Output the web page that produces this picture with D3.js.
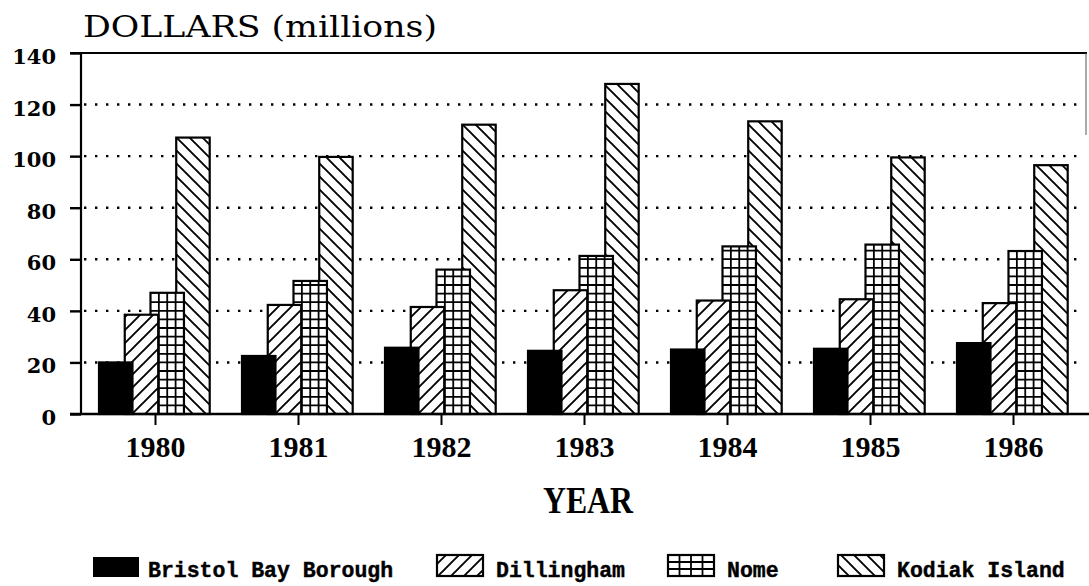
<!DOCTYPE html>
<html>
<head>
  <script src="https://d3js.org/d3.v7.min.js"></script>
  <style>
    body { margin: 0; background: #fff; }
    svg { display: block; }
  </style>
</head>
<body>
  <div id="chart"></div>
  <script>
    // data (millions of dollars)
    var years = ["1980", "1981", "1982", "1983", "1984", "1985", "1986"];
    var series = ["Bristol Bay Borough", "Dillingham", "Nome", "Kodiak Island"];
    var bristolBay = [20, 22.5, 25.7, 24.5, 25, 25.3, 27.5];
    var dillingham = [38.5, 42.3, 41.5, 48, 44, 44.5, 43];
    var nome = [47, 51.6, 56, 61.3, 65, 65.7, 63.2];
    var kodiak = [107.2, 99.7, 112.2, 128, 113.5, 99.5, 96.5];
    var yTicks = [0, 20, 40, 60, 80, 100, 120, 140];

    var width = 1089, height = 586;
    var plotLeft = 81, plotTop = 53, plotBottom = 414, plotRight = 1086;

    var values = [bristolBay, dillingham, nome, kodiak];
    var fills = ["black", "url(#diagUp)", "nome", "url(#diagDown)"];

    var svg = d3.select("#chart").append("svg")
      .attr("width", width)
      .attr("height", height);

    var defs = svg.append("defs");

    var up = defs.append("pattern")
      .attr("id", "diagUp")
      .attr("patternUnits", "userSpaceOnUse")
      .attr("width", 13).attr("height", 13);
    up.append("rect").attr("width", 13).attr("height", 13).attr("fill", "#fff");
    up.append("path")
      .attr("d", "M0,13L13,0M-3,3L3,-3M10,16L16,10")
      .attr("stroke", "#000").attr("stroke-width", 1.9);

    var down = defs.append("pattern")
      .attr("id", "diagDown")
      .attr("patternUnits", "userSpaceOnUse")
      .attr("width", 13).attr("height", 13);
    down.append("rect").attr("width", 13).attr("height", 13).attr("fill", "#fff");
    down.append("path")
      .attr("d", "M0,0L13,13M-3,10L3,16M10,-3L16,3")
      .attr("stroke", "#000").attr("stroke-width", 1.9);

    var x = d3.scaleBand()
      .domain(years)
      .range([84, 1085]);

    var bw = x.bandwidth();
    // the four bars of a year overlap, so offsets come from a point scale
    var xs = d3.scalePoint()
      .domain(series)
      .range([-0.395 * bw, 0.145 * bw]);
    var barW = 0.234 * bw;

    var y = d3.scaleLinear()
      .domain([0, 140])
      .range([plotBottom, plotTop]);

    // dotted gridlines
    svg.append("g")
      .selectAll("line")
      .data(yTicks.filter(function (d) { return d > 0 && d < 140; }))
      .enter().append("line")
      .attr("x1", plotLeft + 3).attr("x2", plotRight - 3)
      .attr("y1", function (d) { return y(d); })
      .attr("y2", function (d) { return y(d); })
      .attr("stroke", "#000")
      .attr("stroke-width", 2.4)
      .attr("stroke-dasharray", "2.4,8.6");

    function gridBox(g, x0, y0, w, h, cols, rowH) {
      g.append("rect")
        .attr("x", x0).attr("y", y0).attr("width", w).attr("height", h)
        .attr("fill", "#fff");
      for (var c = 1; c < cols; c++) {
        g.append("line")
          .attr("x1", x0 + c * w / cols).attr("x2", x0 + c * w / cols)
          .attr("y1", y0).attr("y2", y0 + h)
          .attr("stroke", "#000").attr("stroke-width", 1.8);
      }
      for (var yy = y0 + h - rowH; yy > y0 + 1; yy -= rowH) {
        g.append("line")
          .attr("x1", x0).attr("x2", x0 + w)
          .attr("y1", yy).attr("y2", yy)
          .attr("stroke", "#000").attr("stroke-width", 1.8);
      }
      g.append("rect")
        .attr("x", x0).attr("y", y0).attr("width", w).attr("height", h)
        .attr("fill", "none").attr("stroke", "#000").attr("stroke-width", 2.2);
    }

    // bars: Kodiak at the back, Bristol Bay in front
    var bars = svg.append("g");
    for (var s = series.length - 1; s >= 0; s--) {
      years.forEach(function (yr, i) {
        var v = values[s][i];
        var bx = x(yr) + bw / 2 + xs(series[s]);
        var by = y(v);
        var bh = y(0) - y(v);
        if (fills[s] === "nome") {
          gridBox(bars.append("g"), bx, by, barW, bh, 4, 8.6);
        } else {
          bars.append("rect")
            .attr("x", bx).attr("y", by)
            .attr("width", barW).attr("height", bh)
            .attr("fill", fills[s])
            .attr("stroke", "#000")
            .attr("stroke-width", 2.2);
        }
      });
    }

    // frame
    svg.append("line")
      .attr("x1", 70).attr("x2", plotRight + 1)
      .attr("y1", plotTop).attr("y2", plotTop)
      .attr("stroke", "#000").attr("stroke-width", 2.2);
    svg.append("line")
      .attr("x1", plotRight).attr("x2", plotRight)
      .attr("y1", plotTop).attr("y2", 135)
      .attr("stroke", "#555").attr("stroke-width", 1);

    // y axis
    var yAxis = svg.append("g")
      .attr("transform", "translate(" + plotLeft + ",0)")
      .call(d3.axisLeft(y).tickValues(yTicks).tickSize(11).tickPadding(14));
    yAxis.select(".domain").attr("stroke-width", 2.2).attr("d", "M0," + plotTop + "V" + plotBottom);
    yAxis.selectAll(".tick line").attr("stroke-width", 2.4);
    yAxis.selectAll(".tick text")
      .attr("font-family", "'DejaVu Serif', serif")
      .attr("font-weight", "bold")
      .attr("font-size", 21)
      .attr("dy", "0.5em")
      .attr("fill", "#000");

    // x axis
    var xAxis = svg.append("g")
      .attr("transform", "translate(0," + plotBottom + ")")
      .call(d3.axisBottom(x).tickSize(11).tickPadding(10));
    xAxis.select(".domain").attr("stroke-width", 2.6).attr("d", "M70,0H1089");
    xAxis.selectAll(".tick line").attr("stroke-width", 2);
    xAxis.selectAll(".tick text")
      .attr("font-family", "'Liberation Serif', serif")
      .attr("font-weight", "bold")
      .attr("font-size", 30)
      .attr("dy", "0.72em")
      .attr("fill", "#000");

    // titles
    svg.append("text")
      .attr("x", 83).attr("y", 37)
      .attr("font-family", "'DejaVu Serif', serif")
      .attr("font-size", 30)
      .attr("textLength", 354)
      .attr("lengthAdjust", "spacingAndGlyphs")
      .text("DOLLARS (millions)");

    svg.append("text")
      .attr("x", 543).attr("y", 513)
      .attr("font-family", "'Liberation Serif', serif")
      .attr("font-weight", "bold")
      .attr("font-size", 37)
      .attr("textLength", 90)
      .attr("lengthAdjust", "spacingAndGlyphs")
      .text("YEAR");

    // legend
    var legendX = [93, 437, 668, 838];
    var legend = svg.append("g");
    series.forEach(function (name, i) {
      var lx = legendX[i];
      if (i === 0) {
        legend.append("rect")
          .attr("x", lx).attr("y", 557).attr("width", 46).attr("height", 20)
          .attr("fill", "#000");
      } else if (i === 2) {
        gridBox(legend.append("g"), lx, 555, 46, 21, 4, 7);
      } else {
        legend.append("rect")
          .attr("x", lx).attr("y", 555).attr("width", 46).attr("height", 21)
          .attr("fill", fills[i])
          .attr("stroke", "#000").attr("stroke-width", 2.2);
      }
      legend.append("text")
        .attr("x", lx + (i === 0 ? 55 : 59))
        .attr("y", 577)
        .attr("font-family", "'Liberation Mono', monospace")
        .attr("font-weight", "bold")
        .attr("font-size", 21.5)
        .attr("stroke", "#000")
        .attr("stroke-width", 0.4)
        .text(name);
    });
  </script>
</body>
</html>
